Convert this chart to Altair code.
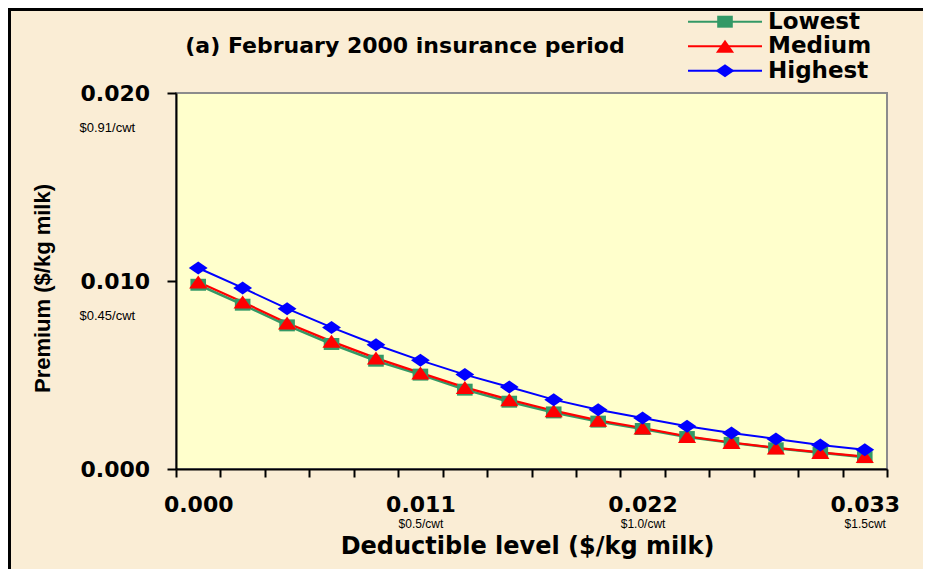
import altair as alt
import pandas as pd

# ---------------- data ----------------
series_names = ["Lowest", "Medium", "Highest"]
series_colors = ["#339966", "#FF0000", "#0000FF"]
series_widths = [2.5, 2, 2]
# stretched marker shapes (square, triangle, diamond) as in the reference
series_shapes = [
    "M-1.2,-0.92H1.2V0.92H-1.2Z",
    "M0,-1L1.4,1L-1.4,1Z",
    "M-1.45,0L0,-1L1.45,0L0,1Z",
]

deductible = [0.0000, 0.0022, 0.0044, 0.0066, 0.0088, 0.0110, 0.0132, 0.0154,
              0.0176, 0.0198, 0.0220, 0.0242, 0.0264, 0.0286, 0.0308, 0.0330]
lowest = [0.00980, 0.00874, 0.00764, 0.00665, 0.00576, 0.00502, 0.00422, 0.00358,
          0.00301, 0.00252, 0.00213, 0.00170, 0.00139, 0.00110, 0.00086, 0.00063]
medium = [0.00995, 0.00888, 0.00777, 0.00679, 0.00590, 0.00511, 0.00434, 0.00369,
          0.00310, 0.00259, 0.00218, 0.00173, 0.00141, 0.00112, 0.00088, 0.00066]
highest = [0.01069, 0.00963, 0.00853, 0.00753, 0.00661, 0.00578, 0.00502, 0.00436,
           0.00369, 0.00315, 0.00271, 0.00227, 0.00191, 0.00160, 0.00128, 0.00103]

x_label_values = [0.000, 0.011, 0.022, 0.033]
x_sub_values = [0.011, 0.022, 0.033]
x_sub_labels = ["$0.5/cwt", "$1.0/cwt", "$1.5cwt"]
y_label_values = [0.000, 0.010, 0.020]
y_sub_values = [0.010, 0.020]
y_sub_labels = ["$0.45/cwt", "$0.91/cwt"]

title_text = "(a) February 2000 insurance period"
x_title = "Deductible level ($/kg milk)"
y_title = "Premium ($/kg milk)"

# ---------------- tables ----------------
rows = []
for name, vals in zip(series_names, [lowest, medium, highest]):
    for d, v in zip(deductible, vals):
        rows.append({"deductible": d, "premium": v, "series": name})
df = pd.DataFrame(rows)
legend_df = pd.DataFrame({"series": series_names, "row": list(range(len(series_names)))})

step = deductible[1] - deductible[0]
half = step / 2
x_domain = [deductible[0] - half, deductible[-1] + half]
x_tick_values = [round(d - half, 6) for d in deductible] + [round(deductible[-1] + half, 6)]

# label expressions built from the lists
x_sub_expr = "''"
for v, lab in zip(reversed(x_sub_values), reversed(x_sub_labels)):
    k = int(round(v / step))
    x_sub_expr = f"round((datum.value + {half}) / {step}) == {k} ? '{lab}' : ({x_sub_expr})"
y_sub_expr = "''"
for v, lab in zip(reversed(y_sub_values), reversed(y_sub_labels)):
    y_sub_expr = f"abs(datum.value - {v}) < 1e-6 ? '{lab}' : ({y_sub_expr})"

BOLD_FONT = "DejaVu Sans"
PLOT_W, PLOT_H = 711, 376
PAD = {"left": 168, "top": 85, "right": 36, "bottom": 100}

x_scale = alt.Scale(domain=x_domain, nice=False, zero=False)
y_scale = alt.Scale(domain=[0, 0.02], nice=False)
color_scale = alt.Scale(domain=series_names, range=series_colors)
shape_scale = alt.Scale(domain=series_names, range=series_shapes)
width_scale = alt.Scale(domain=series_names, range=series_widths)
legend_row_scale = alt.Scale(domain=[0, len(series_names) - 1], range=[-71.3, -22.3])

# ---------------- axes ----------------
x_tick_axis = alt.Axis(
    orient="bottom", values=x_tick_values, grid=False,
    domainColor="black", domainWidth=2, tickColor="black", tickWidth=2, tickSize=8,
    labelExpr=x_sub_expr, labelFont="Liberation Sans", labelFontSize=12,
    labelColor="black", labelOffset=22.2, labelPadding=46, labelBaseline="middle",
    labelFlush=False, labelOverlap=False, title=None,
)
x_label_axis = alt.Axis(
    orient="bottom", values=x_label_values, format=".3f", grid=False,
    domain=False, ticks=False, tickSize=0,
    labelFont=BOLD_FONT, labelFontSize=22, labelFontWeight="bold", labelColor="black",
    labelPadding=35, labelBaseline="middle", labelFlush=False, labelOverlap=False,
    title=x_title, titleFont=BOLD_FONT, titleFontSize=24, titleFontWeight="bold",
    titleColor="black", titleX=351, titleY=84, titleBaseline="alphabetic",
    titleAlign="center",
)
y_main_axis = alt.Axis(
    orient="left", values=y_label_values, format=".3f", grid=False,
    domainColor="black", domainWidth=2, tickColor="black", tickWidth=2, tickSize=9,
    labelFont=BOLD_FONT, labelFontSize=22, labelFontWeight="bold", labelColor="black",
    labelAlign="left", labelBaseline="middle", labelPadding=87, labelOverlap=False,
    title=y_title, titleFont="Liberation Sans", titleFontSize=22, titleFontWeight="bold",
    titleColor="black", titleAngle=270, titleX=-127, titleY=195,
    titleBaseline="alphabetic", titleAlign="center",
)
y_sub_axis = alt.Axis(
    orient="left", values=y_sub_values, grid=False, domain=False, ticks=False, tickSize=0,
    labelExpr=y_sub_expr, labelFont="Liberation Sans", labelFontSize=13, labelColor="black",
    labelAlign="left", labelBaseline="middle", labelPadding=97, labelOffset=34,
    labelOverlap=False, title=None,
)

# ---------------- outer frame (left and top edges) ----------------
frame_src = alt.Data(values=[{"f": 1}])
frame_left = alt.Chart(frame_src).mark_rule(color="black", strokeWidth=3).encode(
    x=alt.value(-166.5), y=alt.value(-84), y2=alt.value(PLOT_H + PAD["bottom"])
)
frame_top = alt.Chart(frame_src).mark_rule(color="black", strokeWidth=3).encode(
    x=alt.value(-168), x2=alt.value(PLOT_W + PAD["right"]), y=alt.value(-83.5)
)

# ---------------- data layers ----------------
lines = alt.Chart(df).mark_line().encode(
    x=alt.X("deductible:Q", scale=x_scale, axis=x_tick_axis),
    y=alt.Y("premium:Q", scale=y_scale, axis=y_main_axis),
    color=alt.Color("series:N", scale=color_scale, legend=None),
    strokeWidth=alt.StrokeWidth("series:N", scale=width_scale, legend=None),
)

points = alt.Chart(df).mark_point(filled=True, size=169, opacity=1).encode(
    x=alt.X("deductible:Q", scale=x_scale, axis=x_label_axis),
    y=alt.Y("premium:Q", scale=y_scale, axis=y_sub_axis),
    color=alt.Color("series:N", scale=color_scale, legend=None),
    shape=alt.Shape("series:N", scale=shape_scale, legend=None),
)

# ---------------- legend (line + marker + label per series) ----------------
legend_base = alt.Chart(legend_df)
leg_rule = legend_base.mark_rule(strokeWidth=2).encode(
    x=alt.value(512), x2=alt.value(586),
    y=alt.Y("row:Q", scale=legend_row_scale, axis=None),
    color=alt.Color("series:N", scale=color_scale, legend=None),
)
leg_point = legend_base.mark_point(filled=True, size=169, opacity=1).encode(
    x=alt.value(549),
    y=alt.Y("row:Q", scale=legend_row_scale, axis=None),
    color=alt.Color("series:N", scale=color_scale, legend=None),
    shape=alt.Shape("series:N", scale=shape_scale, legend=None),
)
leg_text = legend_base.mark_text(
    align="left", baseline="middle", font=BOLD_FONT, fontSize=23, fontWeight="bold",
    color="black",
).encode(
    x=alt.value(592),
    y=alt.Y("row:Q", scale=legend_row_scale, axis=None),
    text="series:N",
)

chart = alt.layer(
    frame_left, frame_top, lines, points, leg_rule, leg_point, leg_text
).resolve_scale(
    y="independent"
).resolve_axis(
    x="independent", y="independent"
).properties(
    width=PLOT_W, height=PLOT_H,
    title=alt.TitleParams(
        text=title_text, anchor="middle", frame="group", offset=0, dy=67,
        baseline="alphabetic", dx=-126.5, font=BOLD_FONT, fontSize=22,
        fontWeight="bold", color="black",
    ),
    autosize=alt.AutoSizeParams(type="none"),
    padding=PAD,
    background="#FAEDD5",
).configure_view(
    fill="#FFFFCC", stroke="#8C8C8C", strokeWidth=2
)

chart.save("out.html", embed_options={"renderer": "svg", "actions": False})
